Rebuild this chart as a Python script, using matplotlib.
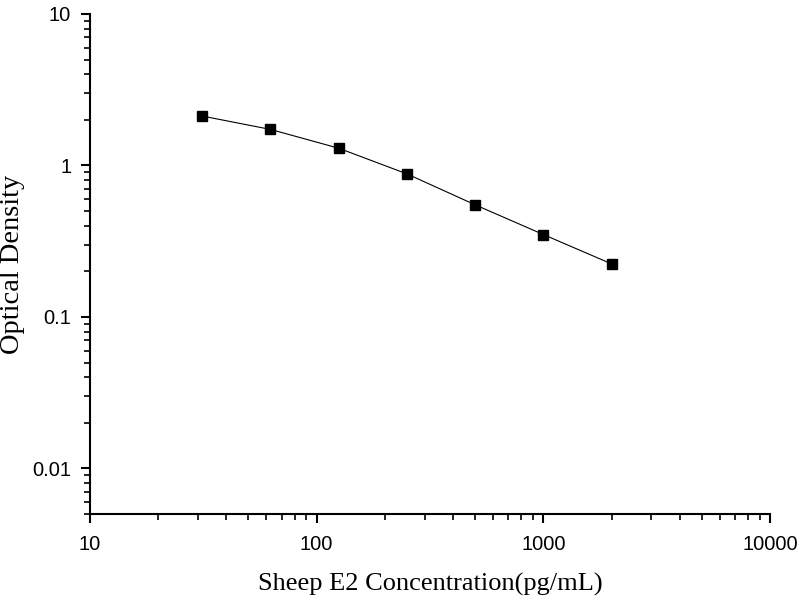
import matplotlib
matplotlib.use("Agg")
import matplotlib.pyplot as plt
from matplotlib import ticker
import numpy as np

# standard curve, Sheep E2
concentration = [31.25, 62.5, 125, 250, 500, 1000, 2000]
optical_density = [2.12, 1.73, 1.30, 0.88, 0.55, 0.35, 0.224]

x_ticks = [10, 100, 1000, 10000]
x_tick_labels = ["10", "100", "1000", "10000"]
y_ticks = [0.01, 0.1, 1, 10]
y_tick_labels = ["0.01", "0.1", "1", "10"]

fig = plt.figure(figsize=(8, 6), dpi=100)
ax = fig.add_axes([0.1125, 0.1433, 0.85, 0.8334])

ax.plot(concentration, optical_density, color="black", linewidth=0.8,
        marker="s", markersize=7.5, markerfacecolor="black", markeredgecolor="black")

ax.set_xscale("log")
ax.set_yscale("log")
ax.set_xlim(10, 10000)
ax.set_ylim(0.005, 10)

tick_font = {"family": "Liberation Sans", "size": 14.5}
ax.set_xticks(x_ticks)
ax.set_xticklabels(x_tick_labels, fontdict=tick_font)
ax.set_yticks(y_ticks)
ax.set_yticklabels(y_tick_labels, fontdict=tick_font)
ax.xaxis.set_minor_locator(ticker.LogLocator(base=10, subs=np.arange(2, 10)))
ax.yaxis.set_minor_locator(ticker.LogLocator(base=10, subs=np.arange(2, 10)))
ax.xaxis.set_minor_formatter(ticker.NullFormatter())
ax.yaxis.set_minor_formatter(ticker.NullFormatter())

for spine in ["top", "right"]:
    ax.spines[spine].set_visible(False)
for spine in ["left", "bottom"]:
    ax.spines[spine].set_linewidth(1.5)

ax.tick_params(which="major", direction="out", length=6.5, width=1.5)
ax.tick_params(which="minor", direction="out", length=4, width=1.2)
ax.tick_params(axis="x", which="major", pad=8.5)
ax.tick_params(axis="y", which="major", pad=7)

ax.set_xlabel("Sheep E2 Concentration(pg/mL)", fontfamily="Liberation Serif",
              fontsize=19)
ax.xaxis.set_label_coords(0.5, -0.118)
ax.set_ylabel("Optical Density", fontfamily="Liberation Serif", fontsize=20.5)
ax.yaxis.set_label_coords(-0.096, 0.5)

fig.savefig("out.png", dpi=100)
